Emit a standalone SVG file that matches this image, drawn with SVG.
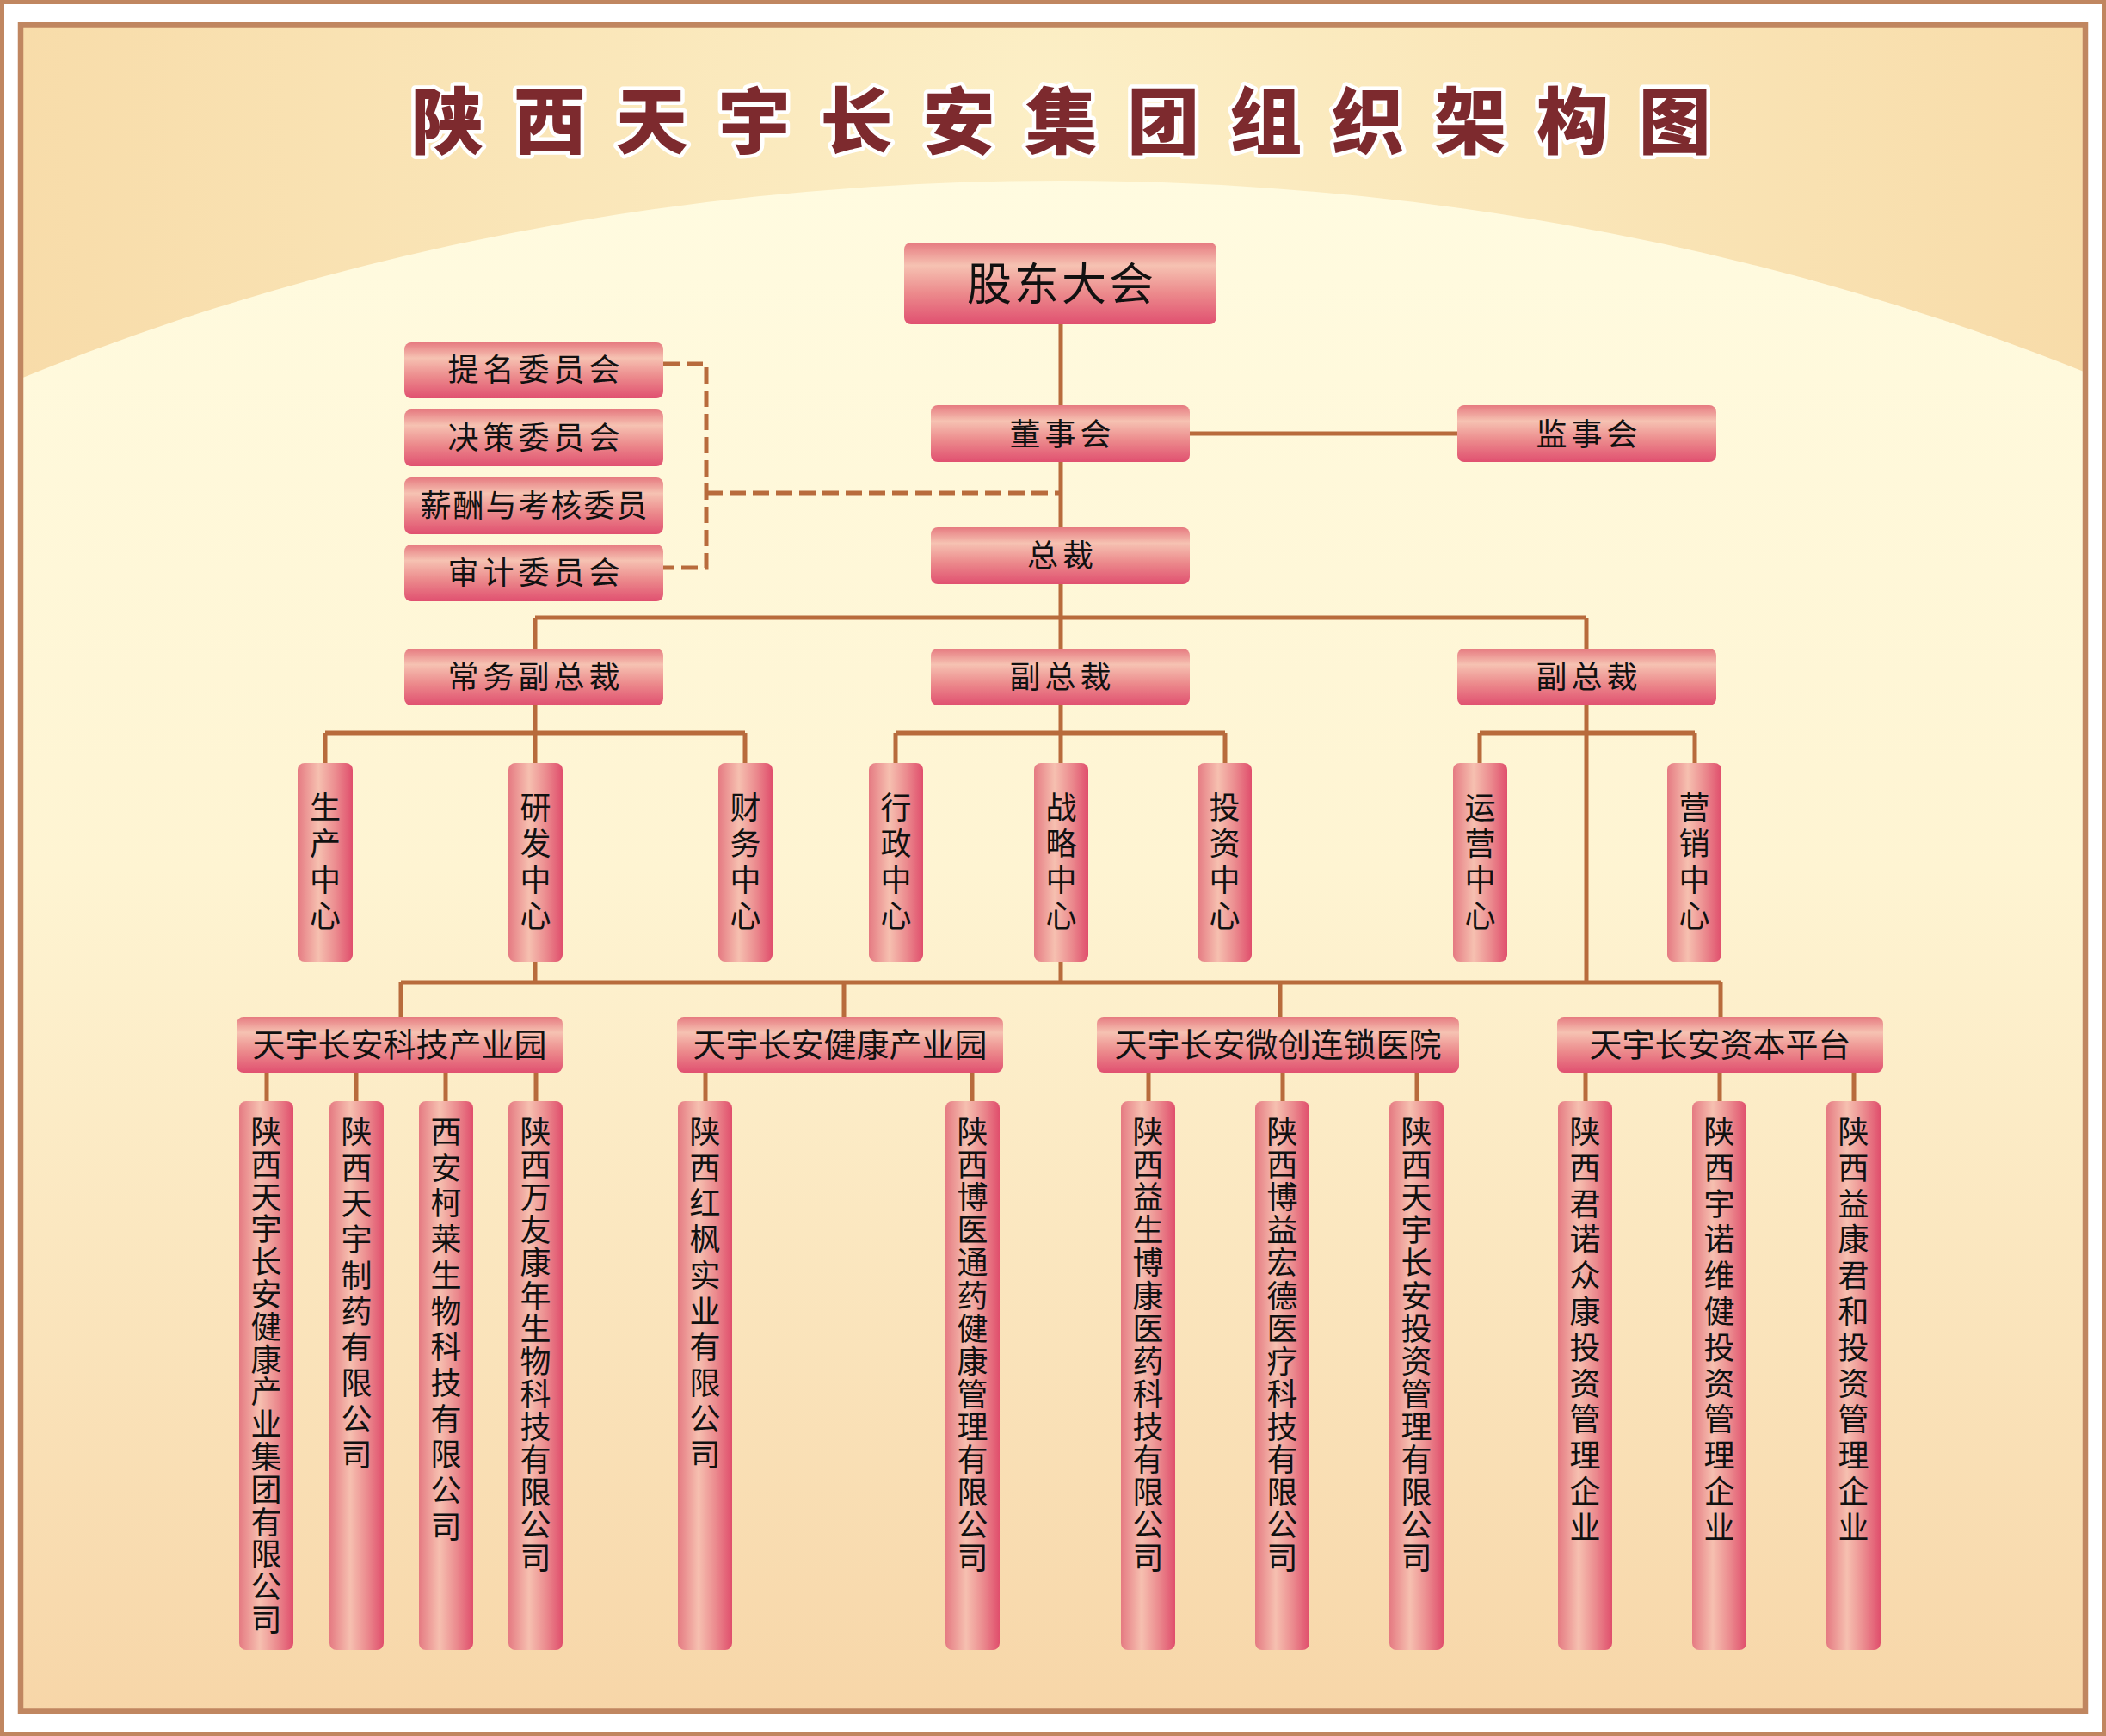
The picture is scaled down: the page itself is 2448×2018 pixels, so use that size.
<svg xmlns="http://www.w3.org/2000/svg" width="2448" height="2018" viewBox="0 0 2448 2018">
<defs>
<linearGradient id="hg" x1="0" y1="0" x2="0" y2="1">
<stop offset="0" stop-color="#e67a80"/><stop offset="0.28" stop-color="#f6c2b2"/><stop offset="0.62" stop-color="#ec8a8c"/><stop offset="1" stop-color="#e05070"/>
</linearGradient>
<linearGradient id="vg" x1="0" y1="0" x2="1" y2="0">
<stop offset="0" stop-color="#e57a82"/><stop offset="0.38" stop-color="#f6c0b0"/><stop offset="0.7" stop-color="#eb8a8e"/><stop offset="1" stop-color="#e04e6c"/>
</linearGradient>
<radialGradient id="topbg" gradientUnits="userSpaceOnUse" cx="1224" cy="120" r="1400">
<stop offset="0" stop-color="#fcefc6"/><stop offset="1" stop-color="#f7d9a5"/>
</radialGradient>
<linearGradient id="arcbg" gradientUnits="userSpaceOnUse" x1="0" y1="210" x2="0" y2="1990">
<stop offset="0" stop-color="#fffbe0"/><stop offset="0.45" stop-color="#fef4d2"/><stop offset="1" stop-color="#f7d6a8"/>
</linearGradient>
<clipPath id="inner"><rect x="24" y="28.5" width="2400" height="1961"/></clipPath>
</defs>
<style>
.ln{stroke:#b86b3c;stroke-width:5;fill:none}
.dash{stroke-dasharray:19 8}
.hb{fill:url(#hg)}
.vb{fill:url(#vg)}
.t{font-family:"Noto Sans CJK SC","Noto Sans",sans-serif;fill:#111;font-size:36px}
.m{text-anchor:middle}
.h{letter-spacing:5px}
.p{font-size:38px}
.title{font-family:"Noto Sans CJK SC","Noto Sans",sans-serif;font-weight:900;font-size:84px;fill:#7d2a2e;stroke:#ffffff;stroke-width:9px;stroke-linejoin:round;paint-order:stroke;text-anchor:middle}
</style>
<g id="background">
<rect x="0" y="0" width="2448" height="2018" fill="#ffffff"/>
<rect x="2.5" y="2.5" width="2443" height="2013" fill="none" stroke="#c08660" stroke-width="5"/>
<rect x="24" y="28.5" width="2400" height="1961" fill="url(#topbg)"/>
<ellipse cx="1233" cy="1900" rx="2400" ry="1690" fill="url(#arcbg)" clip-path="url(#inner)"/>
<rect x="24" y="28.5" width="2400" height="1961" fill="none" stroke="#c08660" stroke-width="6.5"/>
</g>
<text id="title" class="title" x="520 638.9 757.8 876.7 995.6 1114.5 1233.4 1352.3 1471.2 1590.1 1709 1827.9 1946.8" y="172">陕西天宇长安集团组织架构图</text>
<g id="connectors">
<path class="ln" d="M1233,377V471M1233,537V613M1383,504H1694M1233,679V754M622,718H1844M622,718V754M1844,718V754"/>
<path class="ln dash" d="M771,423H821V660H771M821,573H1233"/>
<path class="ln" d="M622,820V887M378,852H866M378,852V887M866,852V887"/>
<path class="ln" d="M1233,820V887M1041,852H1424M1041,852V887M1424,852V887"/>
<path class="ln" d="M1844,820V1142M1720,852H1970M1720,852V887M1970,852V887"/>
<path class="ln" d="M622,1118V1142M1233,1118V1142M466,1142H2000M466,1142V1182M981,1142V1182M1488,1142V1182M2000,1142V1182"/>
<path class="ln" d="M310,1247V1280M414,1247V1280M518,1247V1280M623,1247V1280M820,1247V1280M1130,1247V1280M1335,1247V1280M1491,1247V1280M1647,1247V1280M1843,1247V1280M1999,1247V1280M2155,1247V1280"/>
</g>
<g id="n-gudong"><rect class="hb" x="1051" y="282" width="363" height="95" rx="8"/><text class="t m" x="1234" y="349" style="font-size:52px;letter-spacing:3px">股东大会</text></g>
<g id="n-dongshi"><rect class="hb" x="1082" y="471" width="301" height="66" rx="8"/><text class="t m h" x="1235" y="518">董事会</text></g>
<g id="n-jianshi"><rect class="hb" x="1694" y="471" width="301" height="66" rx="8"/><text class="t m h" x="1847" y="518">监事会</text></g>
<g id="n-timing"><rect class="hb" x="470" y="398" width="301" height="65" rx="8"/><text class="t m h" x="623" y="443">提名委员会</text></g>
<g id="n-juece"><rect class="hb" x="470" y="476" width="301" height="66" rx="8"/><text class="t m h" x="623" y="522">决策委员会</text></g>
<g id="n-xinchou"><rect class="hb" x="470" y="555" width="301" height="66" rx="8"/><text class="t m" x="621.5" y="601" style="letter-spacing:2px">薪酬与考核委员</text></g>
<g id="n-shenji"><rect class="hb" x="470" y="633" width="301" height="66" rx="8"/><text class="t m h" x="623" y="679">审计委员会</text></g>
<g id="n-zongcai"><rect class="hb" x="1082" y="613" width="301" height="66" rx="8"/><text class="t m h" x="1235" y="659">总裁</text></g>
<g id="n-changwu"><rect class="hb" x="470" y="754" width="301" height="66" rx="8"/><text class="t m h" x="623" y="800">常务副总裁</text></g>
<g id="n-fuzong1"><rect class="hb" x="1082" y="754" width="301" height="66" rx="8"/><text class="t m h" x="1235" y="800">副总裁</text></g>
<g id="n-fuzong2"><rect class="hb" x="1694" y="754" width="301" height="66" rx="8"/><text class="t m h" x="1847" y="800">副总裁</text></g>
<g id="n-shengchan"><rect class="vb" x="346" y="887" width="64" height="231" rx="8"/><text class="t m" x="378" y="952">生<tspan x="378" dy="42">产</tspan><tspan x="378" dy="42">中</tspan><tspan x="378" dy="42">心</tspan></text></g>
<g id="n-yanfa"><rect class="vb" x="591" y="887" width="63" height="231" rx="8"/><text class="t m" x="622.5" y="952">研<tspan x="622.5" dy="42">发</tspan><tspan x="622.5" dy="42">中</tspan><tspan x="622.5" dy="42">心</tspan></text></g>
<g id="n-caiwu"><rect class="vb" x="835" y="887" width="63" height="231" rx="8"/><text class="t m" x="866.5" y="952">财<tspan x="866.5" dy="42">务</tspan><tspan x="866.5" dy="42">中</tspan><tspan x="866.5" dy="42">心</tspan></text></g>
<g id="n-xingzheng"><rect class="vb" x="1010" y="887" width="63" height="231" rx="8"/><text class="t m" x="1041.5" y="952">行<tspan x="1041.5" dy="42">政</tspan><tspan x="1041.5" dy="42">中</tspan><tspan x="1041.5" dy="42">心</tspan></text></g>
<g id="n-zhanlve"><rect class="vb" x="1202" y="887" width="63" height="231" rx="8"/><text class="t m" x="1233.5" y="952">战<tspan x="1233.5" dy="42">略</tspan><tspan x="1233.5" dy="42">中</tspan><tspan x="1233.5" dy="42">心</tspan></text></g>
<g id="n-touzi"><rect class="vb" x="1392" y="887" width="63" height="231" rx="8"/><text class="t m" x="1423.5" y="952">投<tspan x="1423.5" dy="42">资</tspan><tspan x="1423.5" dy="42">中</tspan><tspan x="1423.5" dy="42">心</tspan></text></g>
<g id="n-yunying"><rect class="vb" x="1689" y="887" width="63" height="231" rx="8"/><text class="t m" x="1720.5" y="952">运<tspan x="1720.5" dy="42">营</tspan><tspan x="1720.5" dy="42">中</tspan><tspan x="1720.5" dy="42">心</tspan></text></g>
<g id="n-yingxiao"><rect class="vb" x="1938" y="887" width="63" height="231" rx="8"/><text class="t m" x="1969.5" y="952">营<tspan x="1969.5" dy="42">销</tspan><tspan x="1969.5" dy="42">中</tspan><tspan x="1969.5" dy="42">心</tspan></text></g>
<g id="n-park-keji"><rect class="hb" x="275" y="1182" width="379" height="65" rx="8"/><text class="t m p" x="464.5" y="1228">天宇长安科技产业园</text></g>
<g id="n-park-jiankang"><rect class="hb" x="787" y="1182" width="379" height="65" rx="8"/><text class="t m p" x="976.5" y="1228">天宇长安健康产业园</text></g>
<g id="n-park-weichuang"><rect class="hb" x="1275" y="1182" width="421" height="65" rx="8"/><text class="t m p" x="1485.5" y="1228">天宇长安微创连锁医院</text></g>
<g id="n-park-ziben"><rect class="hb" x="1810" y="1182" width="379" height="65" rx="8"/><text class="t m p" x="1999.5" y="1228">天宇长安资本平台</text></g>
<g id="n-c1"><rect class="vb" x="278" y="1280" width="63" height="638" rx="8"/><text class="t m" x="309.5" y="1329">陕<tspan x="309.5" dy="37.8">西</tspan><tspan x="309.5" dy="37.8">天</tspan><tspan x="309.5" dy="37.8">宇</tspan><tspan x="309.5" dy="37.8">长</tspan><tspan x="309.5" dy="37.8">安</tspan><tspan x="309.5" dy="37.8">健</tspan><tspan x="309.5" dy="37.8">康</tspan><tspan x="309.5" dy="37.8">产</tspan><tspan x="309.5" dy="37.8">业</tspan><tspan x="309.5" dy="37.8">集</tspan><tspan x="309.5" dy="37.8">团</tspan><tspan x="309.5" dy="37.8">有</tspan><tspan x="309.5" dy="37.8">限</tspan><tspan x="309.5" dy="37.8">公</tspan><tspan x="309.5" dy="37.8">司</tspan></text></g>
<g id="n-c2"><rect class="vb" x="383" y="1280" width="63" height="638" rx="8"/><text class="t m" x="414.5" y="1329">陕<tspan x="414.5" dy="41.7">西</tspan><tspan x="414.5" dy="41.7">天</tspan><tspan x="414.5" dy="41.7">宇</tspan><tspan x="414.5" dy="41.7">制</tspan><tspan x="414.5" dy="41.7">药</tspan><tspan x="414.5" dy="41.7">有</tspan><tspan x="414.5" dy="41.7">限</tspan><tspan x="414.5" dy="41.7">公</tspan><tspan x="414.5" dy="41.7">司</tspan></text></g>
<g id="n-c3"><rect class="vb" x="487" y="1280" width="63" height="638" rx="8"/><text class="t m" x="518.5" y="1329">西<tspan x="518.5" dy="41.7">安</tspan><tspan x="518.5" dy="41.7">柯</tspan><tspan x="518.5" dy="41.7">莱</tspan><tspan x="518.5" dy="41.7">生</tspan><tspan x="518.5" dy="41.7">物</tspan><tspan x="518.5" dy="41.7">科</tspan><tspan x="518.5" dy="41.7">技</tspan><tspan x="518.5" dy="41.7">有</tspan><tspan x="518.5" dy="41.7">限</tspan><tspan x="518.5" dy="41.7">公</tspan><tspan x="518.5" dy="41.7">司</tspan></text></g>
<g id="n-c4"><rect class="vb" x="591" y="1280" width="63" height="638" rx="8"/><text class="t m" x="622.5" y="1329">陕<tspan x="622.5" dy="38.1">西</tspan><tspan x="622.5" dy="38.1">万</tspan><tspan x="622.5" dy="38.1">友</tspan><tspan x="622.5" dy="38.1">康</tspan><tspan x="622.5" dy="38.1">年</tspan><tspan x="622.5" dy="38.1">生</tspan><tspan x="622.5" dy="38.1">物</tspan><tspan x="622.5" dy="38.1">科</tspan><tspan x="622.5" dy="38.1">技</tspan><tspan x="622.5" dy="38.1">有</tspan><tspan x="622.5" dy="38.1">限</tspan><tspan x="622.5" dy="38.1">公</tspan><tspan x="622.5" dy="38.1">司</tspan></text></g>
<g id="n-c5"><rect class="vb" x="788" y="1280" width="63" height="638" rx="8"/><text class="t m" x="819.5" y="1329">陕<tspan x="819.5" dy="41.7">西</tspan><tspan x="819.5" dy="41.7">红</tspan><tspan x="819.5" dy="41.7">枫</tspan><tspan x="819.5" dy="41.7">实</tspan><tspan x="819.5" dy="41.7">业</tspan><tspan x="819.5" dy="41.7">有</tspan><tspan x="819.5" dy="41.7">限</tspan><tspan x="819.5" dy="41.7">公</tspan><tspan x="819.5" dy="41.7">司</tspan></text></g>
<g id="n-c6"><rect class="vb" x="1099" y="1280" width="63" height="638" rx="8"/><text class="t m" x="1130.5" y="1329">陕<tspan x="1130.5" dy="38.1">西</tspan><tspan x="1130.5" dy="38.1">博</tspan><tspan x="1130.5" dy="38.1">医</tspan><tspan x="1130.5" dy="38.1">通</tspan><tspan x="1130.5" dy="38.1">药</tspan><tspan x="1130.5" dy="38.1">健</tspan><tspan x="1130.5" dy="38.1">康</tspan><tspan x="1130.5" dy="38.1">管</tspan><tspan x="1130.5" dy="38.1">理</tspan><tspan x="1130.5" dy="38.1">有</tspan><tspan x="1130.5" dy="38.1">限</tspan><tspan x="1130.5" dy="38.1">公</tspan><tspan x="1130.5" dy="38.1">司</tspan></text></g>
<g id="n-c7"><rect class="vb" x="1303" y="1280" width="63" height="638" rx="8"/><text class="t m" x="1334.5" y="1329">陕<tspan x="1334.5" dy="38.1">西</tspan><tspan x="1334.5" dy="38.1">益</tspan><tspan x="1334.5" dy="38.1">生</tspan><tspan x="1334.5" dy="38.1">博</tspan><tspan x="1334.5" dy="38.1">康</tspan><tspan x="1334.5" dy="38.1">医</tspan><tspan x="1334.5" dy="38.1">药</tspan><tspan x="1334.5" dy="38.1">科</tspan><tspan x="1334.5" dy="38.1">技</tspan><tspan x="1334.5" dy="38.1">有</tspan><tspan x="1334.5" dy="38.1">限</tspan><tspan x="1334.5" dy="38.1">公</tspan><tspan x="1334.5" dy="38.1">司</tspan></text></g>
<g id="n-c8"><rect class="vb" x="1459" y="1280" width="63" height="638" rx="8"/><text class="t m" x="1490.5" y="1329">陕<tspan x="1490.5" dy="38.1">西</tspan><tspan x="1490.5" dy="38.1">博</tspan><tspan x="1490.5" dy="38.1">益</tspan><tspan x="1490.5" dy="38.1">宏</tspan><tspan x="1490.5" dy="38.1">德</tspan><tspan x="1490.5" dy="38.1">医</tspan><tspan x="1490.5" dy="38.1">疗</tspan><tspan x="1490.5" dy="38.1">科</tspan><tspan x="1490.5" dy="38.1">技</tspan><tspan x="1490.5" dy="38.1">有</tspan><tspan x="1490.5" dy="38.1">限</tspan><tspan x="1490.5" dy="38.1">公</tspan><tspan x="1490.5" dy="38.1">司</tspan></text></g>
<g id="n-c9"><rect class="vb" x="1615" y="1280" width="63" height="638" rx="8"/><text class="t m" x="1646.5" y="1329">陕<tspan x="1646.5" dy="38.1">西</tspan><tspan x="1646.5" dy="38.1">天</tspan><tspan x="1646.5" dy="38.1">宇</tspan><tspan x="1646.5" dy="38.1">长</tspan><tspan x="1646.5" dy="38.1">安</tspan><tspan x="1646.5" dy="38.1">投</tspan><tspan x="1646.5" dy="38.1">资</tspan><tspan x="1646.5" dy="38.1">管</tspan><tspan x="1646.5" dy="38.1">理</tspan><tspan x="1646.5" dy="38.1">有</tspan><tspan x="1646.5" dy="38.1">限</tspan><tspan x="1646.5" dy="38.1">公</tspan><tspan x="1646.5" dy="38.1">司</tspan></text></g>
<g id="n-c10"><rect class="vb" x="1811" y="1280" width="63" height="638" rx="8"/><text class="t m" x="1842.5" y="1329">陕<tspan x="1842.5" dy="41.8">西</tspan><tspan x="1842.5" dy="41.8">君</tspan><tspan x="1842.5" dy="41.8">诺</tspan><tspan x="1842.5" dy="41.8">众</tspan><tspan x="1842.5" dy="41.8">康</tspan><tspan x="1842.5" dy="41.8">投</tspan><tspan x="1842.5" dy="41.8">资</tspan><tspan x="1842.5" dy="41.8">管</tspan><tspan x="1842.5" dy="41.8">理</tspan><tspan x="1842.5" dy="41.8">企</tspan><tspan x="1842.5" dy="41.8">业</tspan></text></g>
<g id="n-c11"><rect class="vb" x="1967" y="1280" width="63" height="638" rx="8"/><text class="t m" x="1998.5" y="1329">陕<tspan x="1998.5" dy="41.8">西</tspan><tspan x="1998.5" dy="41.8">宇</tspan><tspan x="1998.5" dy="41.8">诺</tspan><tspan x="1998.5" dy="41.8">维</tspan><tspan x="1998.5" dy="41.8">健</tspan><tspan x="1998.5" dy="41.8">投</tspan><tspan x="1998.5" dy="41.8">资</tspan><tspan x="1998.5" dy="41.8">管</tspan><tspan x="1998.5" dy="41.8">理</tspan><tspan x="1998.5" dy="41.8">企</tspan><tspan x="1998.5" dy="41.8">业</tspan></text></g>
<g id="n-c12"><rect class="vb" x="2123" y="1280" width="63" height="638" rx="8"/><text class="t m" x="2154.5" y="1329">陕<tspan x="2154.5" dy="41.8">西</tspan><tspan x="2154.5" dy="41.8">益</tspan><tspan x="2154.5" dy="41.8">康</tspan><tspan x="2154.5" dy="41.8">君</tspan><tspan x="2154.5" dy="41.8">和</tspan><tspan x="2154.5" dy="41.8">投</tspan><tspan x="2154.5" dy="41.8">资</tspan><tspan x="2154.5" dy="41.8">管</tspan><tspan x="2154.5" dy="41.8">理</tspan><tspan x="2154.5" dy="41.8">企</tspan><tspan x="2154.5" dy="41.8">业</tspan></text></g>
</svg>
